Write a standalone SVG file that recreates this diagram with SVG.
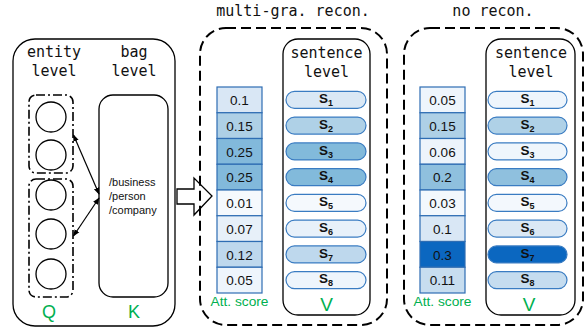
<svg xmlns="http://www.w3.org/2000/svg" width="586" height="331" viewBox="0 0 586 331">
<defs>
<marker id="ah" viewBox="0 0 10 10" refX="9" refY="5" markerWidth="7" markerHeight="7" orient="auto-start-reverse" markerUnits="userSpaceOnUse">
<path d="M0,1 L10,5 L0,9 z" fill="#000"/>
</marker>
<style>
.mono{font-family:"DejaVu Sans Mono",monospace;font-size:15px;fill:#111;text-anchor:middle}
.sans{font-family:"Liberation Sans",Arial,sans-serif}
.num{font-family:"Liberation Sans",Arial,sans-serif;font-size:13.5px;fill:#111;text-anchor:middle}
.green{fill:#00b050;text-anchor:middle;font-family:"Liberation Sans",Arial,sans-serif}
.cell{stroke:#2e6db3;stroke-width:1.2}
.pill{stroke:#3a7cc2;stroke-width:1.2}
.slab{font-family:"Liberation Sans",Arial,sans-serif;font-size:13.5px;font-weight:bold;fill:#111;text-anchor:middle}
.sub{font-size:9px}
.dd{fill:none;stroke:#000;stroke-width:1.6;stroke-dasharray:9,3,2,3}
.dash{fill:none;stroke:#000;stroke-width:2;stroke-dasharray:10,5}
.box{fill:none;stroke:#000;stroke-width:1.3}
.circ{fill:#fff;stroke:#000;stroke-width:1.3}
</style>
</defs>

<g id="left-panel">
<rect class="box" x="13" y="39" width="162" height="287" rx="22"/>
<text class="mono" x="54" y="57">entity</text>
<text class="mono" x="54" y="76">level</text>
<text class="mono" x="134" y="57">bag</text>
<text class="mono" x="134" y="76">level</text>
<text class="green" x="49" y="318" font-size="18">Q</text>
<text class="green" x="134" y="318" font-size="18">K</text>
</g>

<g id="entity-group-1">
<rect class="dd" x="29" y="95" width="44" height="78" rx="7"/>
<circle class="circ" cx="51" cy="117" r="15"/>
<circle class="circ" cx="51" cy="155" r="15"/>
</g>
<g id="entity-group-2">
<rect class="dd" x="29" y="179" width="44" height="118" rx="7"/>
<circle class="circ" cx="51" cy="195" r="15"/>
<circle class="circ" cx="51" cy="234" r="15"/>
<circle class="circ" cx="51" cy="274" r="15"/>
</g>

<g id="bag">
<rect class="box" x="99" y="95" width="69" height="202" rx="14"/>
<text class="sans" font-size="11" fill="#111" x="109" y="186">/business</text>
<text class="sans" font-size="11" fill="#111" x="109" y="200">/person</text>
<text class="sans" font-size="11" fill="#111" x="109" y="214">/company</text>
</g>

<g id="connectors">
<line x1="73.5" y1="135" x2="99" y2="194" stroke="#000" stroke-width="1.2" marker-start="url(#ah)" marker-end="url(#ah)"/>
<line x1="73.5" y1="236" x2="99" y2="198" stroke="#000" stroke-width="1.2" marker-start="url(#ah)" marker-end="url(#ah)"/>
<path d="M177,189 L194,189 L194,178 L212,196 L194,215 L194,204 L177,204 Z" fill="#fff" stroke="#000" stroke-width="1.3"/>
</g>

<g id="multi-gra-panel">
<text class="mono" x="293" y="16">multi-gra. recon.</text>
<rect class="dash" x="200" y="28" width="187" height="297" rx="26"/>
</g>

<g id="att-score-multi">
<rect class="cell" x="217" y="87" width="45" height="25.75" fill="#d9e7f5"/>
<rect class="cell" x="217" y="112.75" width="45" height="25.75" fill="#aed0e6"/>
<rect class="cell" x="217" y="138.5" width="45" height="25.75" fill="#82b9db"/>
<rect class="cell" x="217" y="164.25" width="45" height="25.75" fill="#82b9db"/>
<rect class="cell" x="217" y="190" width="45" height="25.75" fill="#f5f9fd"/>
<rect class="cell" x="217" y="215.75" width="45" height="25.75" fill="#e7f0f9"/>
<rect class="cell" x="217" y="241.5" width="45" height="25.75" fill="#bed8ed"/>
<rect class="cell" x="217" y="267.25" width="45" height="25.75" fill="#eef5fc"/>
<text class="num" x="239.5" y="105">0.1</text>
<text class="num" x="239.5" y="130.5">0.15</text>
<text class="num" x="239.5" y="156.5">0.25</text>
<text class="num" x="239.5" y="182">0.25</text>
<text class="num" x="239.5" y="208">0.01</text>
<text class="num" x="239.5" y="233.5">0.07</text>
<text class="num" x="239.5" y="259.5">0.12</text>
<text class="num" x="239.5" y="285">0.05</text>
<text class="green" x="239.5" y="306" font-size="13" textLength="58" lengthAdjust="spacingAndGlyphs">Att. score</text>
</g>

<g id="sentence-multi">
<rect class="box" x="283" y="39" width="87" height="276" rx="15"/>
<text class="mono" x="326.5" y="58">sentence</text>
<text class="mono" x="326.5" y="77">level</text>
<rect class="pill" x="286" y="91.4" width="80" height="17" rx="8.5" fill="#dae8f5"/>
<rect class="pill" x="286" y="117.1" width="80" height="17" rx="8.5" fill="#afd1e7"/>
<rect class="pill" x="286" y="142.9" width="80" height="17" rx="8.5" fill="#82badb"/>
<rect class="pill" x="286" y="168.6" width="80" height="17" rx="8.5" fill="#82badb"/>
<rect class="pill" x="286" y="194.4" width="80" height="17" rx="8.5" fill="#f5f9fd"/>
<rect class="pill" x="286" y="220.1" width="80" height="17" rx="8.5" fill="#e8f1fa"/>
<rect class="pill" x="286" y="245.9" width="80" height="17" rx="8.5" fill="#bed8ed"/>
<rect class="pill" x="286" y="271.6" width="80" height="17" rx="8.5" fill="#eef5fc"/>
<text class="slab" x="326" y="103">S<tspan class="sub" dy="3">1</tspan></text>
<text class="slab" x="326" y="128.5">S<tspan class="sub" dy="3">2</tspan></text>
<text class="slab" x="326" y="154.5">S<tspan class="sub" dy="3">3</tspan></text>
<text class="slab" x="326" y="180">S<tspan class="sub" dy="3">4</tspan></text>
<text class="slab" x="326" y="206">S<tspan class="sub" dy="3">5</tspan></text>
<text class="slab" x="326" y="231.5">S<tspan class="sub" dy="3">6</tspan></text>
<text class="slab" x="326" y="257.5">S<tspan class="sub" dy="3">7</tspan></text>
<text class="slab" x="326" y="283">S<tspan class="sub" dy="3">8</tspan></text>
<text class="green" x="326.5" y="311" font-size="19">V</text>
</g>

<g id="no-recon-panel">
<text class="mono" x="493" y="16">no recon.</text>
<rect class="dash" x="404" y="28" width="179" height="297" rx="26"/>
</g>

<g id="att-score-no">
<rect class="cell" x="420" y="87" width="45" height="25.75" fill="#eef5fc"/>
<rect class="cell" x="420" y="112.75" width="45" height="25.75" fill="#aed0e6"/>
<rect class="cell" x="420" y="138.5" width="45" height="25.75" fill="#edf4fb"/>
<rect class="cell" x="420" y="164.25" width="45" height="25.75" fill="#8fc0de"/>
<rect class="cell" x="420" y="190" width="45" height="25.75" fill="#f3f8fd"/>
<rect class="cell" x="420" y="215.75" width="45" height="25.75" fill="#d9e7f5"/>
<rect class="cell" x="420" y="241.5" width="45" height="25.75" fill="#0b67c0"/>
<rect class="cell" x="420" y="267.25" width="45" height="25.75" fill="#c7ddef"/>
<text class="num" x="442.5" y="105">0.05</text>
<text class="num" x="442.5" y="130.5">0.15</text>
<text class="num" x="442.5" y="156.5">0.06</text>
<text class="num" x="442.5" y="182">0.2</text>
<text class="num" x="442.5" y="208">0.03</text>
<text class="num" x="442.5" y="233.5">0.1</text>
<text class="num" x="442.5" y="259.5">0.3</text>
<text class="num" x="442.5" y="285">0.11</text>
<text class="green" x="442.5" y="306" font-size="13" textLength="58" lengthAdjust="spacingAndGlyphs">Att. score</text>
</g>

<g id="sentence-no">
<rect class="box" x="486" y="39" width="89" height="276" rx="15"/>
<text class="mono" x="531" y="58">sentence</text>
<text class="mono" x="531" y="77">level</text>
<rect class="pill" x="488" y="91.4" width="79" height="17" rx="8.5" fill="#eef5fc"/>
<rect class="pill" x="488" y="117.1" width="79" height="17" rx="8.5" fill="#afd1e7"/>
<rect class="pill" x="488" y="142.9" width="79" height="17" rx="8.5" fill="#eff6fc"/>
<rect class="pill" x="488" y="168.6" width="79" height="17" rx="8.5" fill="#8fc0de"/>
<rect class="pill" x="488" y="194.4" width="79" height="17" rx="8.5" fill="#f3f8fd"/>
<rect class="pill" x="488" y="220.1" width="79" height="17" rx="8.5" fill="#dae8f5"/>
<rect class="pill" x="488" y="245.9" width="79" height="17" rx="8.5" fill="#0b67c0"/>
<rect class="pill" x="488" y="271.6" width="79" height="17" rx="8.5" fill="#c5dcef"/>
<text class="slab" x="527.5" y="103">S<tspan class="sub" dy="3">1</tspan></text>
<text class="slab" x="527.5" y="128.5">S<tspan class="sub" dy="3">2</tspan></text>
<text class="slab" x="527.5" y="154.5">S<tspan class="sub" dy="3">3</tspan></text>
<text class="slab" x="527.5" y="180">S<tspan class="sub" dy="3">4</tspan></text>
<text class="slab" x="527.5" y="206">S<tspan class="sub" dy="3">5</tspan></text>
<text class="slab" x="527.5" y="231.5">S<tspan class="sub" dy="3">6</tspan></text>
<text class="slab" x="527.5" y="257.5">S<tspan class="sub" dy="3">7</tspan></text>
<text class="slab" x="527.5" y="283">S<tspan class="sub" dy="3">8</tspan></text>
<text class="green" x="529" y="311" font-size="19">V</text>
</g>
</svg>
